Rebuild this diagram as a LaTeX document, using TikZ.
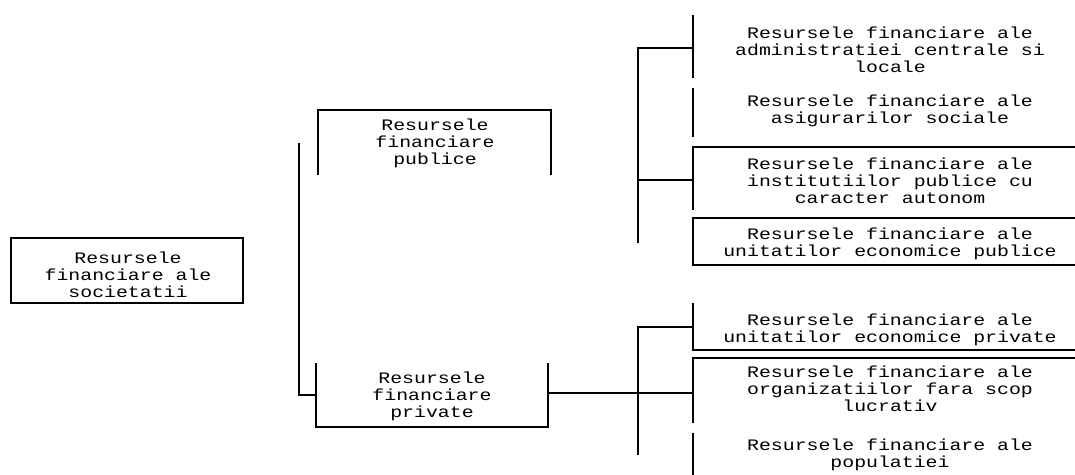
\documentclass[tikz,border=0pt]{standalone}
\usepackage{fontspec}
\setmonofont[FakeStretch=1.24]{Liberation Mono}
\begin{document}
\begin{tikzpicture}[x=0.75pt,y=-0.75pt]
\tikzset{
  ln/.style={line width=1.4pt, line join=miter},
  txt/.style={font=\ttfamily\fontsize{12pt}{12.8pt}\selectfont, align=center, inner sep=0pt},
  rootbox/.style={draw, line width=1.4pt, minimum width=174pt, minimum height=48.75pt, inner sep=0pt}
}
\useasboundingbox (0,0) rectangle (1075,475);
\fill[white] (0,0) rectangle (1075,475);

% root
\node[rootbox] (root) at (127,270.5) {};
\node[txt] (roott) at (128,275) {Resursele\\financiare ale\\societatii};

% level 2 texts
\node[txt] (pub) at (435,143) {Resursele\\financiare\\publice};
\node[txt] (priv) at (432,396) {Resursele\\financiare\\private};

% right texts
\node[txt] (r1) at (890,50) {Resursele financiare ale\\administratiei centrale si\\locale};
\node[txt] (r2) at (890,111) {Resursele financiare ale\\asigurarilor sociale};
\node[txt] (r3) at (890,181) {Resursele financiare ale\\institutiilor publice cu\\caracter autonom};
\node[txt] (r4) at (890,244) {Resursele financiare ale\\unitatilor economice publice};
\node[txt] (p1) at (890,330) {Resursele financiare ale\\unitatilor economice private};
\node[txt] (p2) at (890,389) {Resursele financiare ale\\organizatiilor fara scop\\lucrativ};
\node[txt] (p3) at (890,455) {Resursele financiare ale\\populatiei};

% coordinates
\coordinate (vTop) at (299,143);
\coordinate (vBot) at (299,395);
\coordinate (privL) at (316,395);
\coordinate (privOut) at (548,393);
\coordinate (pubBr) at (638,48);
\coordinate (pubBrB) at (638,243);
\coordinate (privBr) at (638,327);
\coordinate (privBrB) at (638,455);
\coordinate (edge) at (1075,0);

% long vertical from root level to private box
\draw[ln] (vTop) -- (vBot) -- (privL);

% public open box (open at bottom)
\draw[ln] (318,175) -- (318,110) -- (551,110) -- (551,175);

% private open box (open at top)
\draw[ln] (316,363) -- (316,427) -- (548,427) -- (548,363);
\draw[ln] (privOut) -- (693,393);

% public bracket
\draw[ln] (pubBrB) -- (pubBr) -- (693,48);
\draw[ln] (638,180) -- (693,180);
\draw[ln] (693,15) -- (693,78);
\draw[ln] (693,88) -- (693,137);
\draw[ln] (edge |- 0,147) -- (693,147) -- (693,210);
\draw[ln] (edge |- 0,218) -- (693,218) -- (693,265) -- (edge |- 0,265);

% private bracket
\draw[ln] (privBrB) -- (privBr) -- (693,327);
\draw[ln] (693,303) -- (693,350) -- (edge |- 0,350);
\draw[ln] (edge |- 0,358) -- (693,358) -- (693,423);
\draw[ln] (693,433) -- (693,475);
\end{tikzpicture}
\end{document}
